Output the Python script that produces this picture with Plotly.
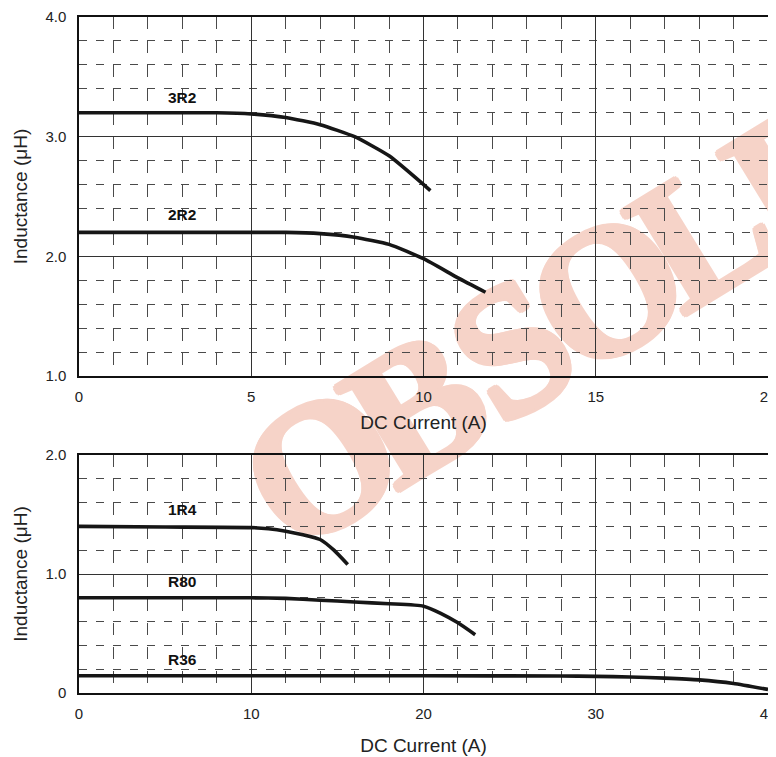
import math
import plotly.graph_objects as go

# ---------------- data ----------------
top_x_ticks = [0, 5, 10, 15, 20]
top_y_ticks = [1, 2, 3, 4]
top_y_text = ["1.0", "2.0", "3.0", "4.0"]
bot_x_ticks = [0, 10, 20, 30, 40]
bot_y_ticks = [0, 1, 2]
bot_y_text = ["0", "1.0", "2.0"]

r3r2_x = [0, 4, 5, 6, 7, 8, 9, 10.2]
r3r2_y = [3.2, 3.2, 3.19, 3.16, 3.10, 3.0, 2.84, 2.55]

r2r2_x = [0, 6, 7, 8, 9, 10, 11, 11.8]
r2r2_y = [2.2, 2.2, 2.19, 2.16, 2.10, 1.98, 1.82, 1.70]

r1r4_x = [0, 5, 10, 11, 12, 13, 14, 14.8, 15.6]
r1r4_y = [1.40, 1.395, 1.39, 1.38, 1.36, 1.33, 1.29, 1.20, 1.08]

r80_x = [0, 5, 10, 12, 14, 16, 18, 20, 21, 22, 23]
r80_y = [0.8, 0.8, 0.8, 0.795, 0.78, 0.765, 0.75, 0.73, 0.67, 0.59, 0.49]

r36_x = [0, 10, 20, 28, 30, 32, 34, 36, 38, 40]
r36_y = [0.145, 0.145, 0.145, 0.143, 0.14, 0.135, 0.125, 0.11, 0.08, 0.03]

watermark = "OBSOLETE"

# ---------------- styling ----------------
W, H = 776, 757
PAGE = 8  # default body margin of the page
ML, MR, MT, MB = 79 - PAGE, 16, 17 - PAGE, 72
LINE_COLOR = "#161616"
SANS = "Liberation Sans, Arial, sans-serif"
WM_COLOR = "#f6d3c8"

fig = go.Figure()

def add_curve(x, y, xa, ya):
    fig.add_trace(go.Scatter(x=x, y=y, xaxis=xa, yaxis=ya, mode="lines",
                             line=dict(color=LINE_COLOR, width=3.6, shape="spline", smoothing=0.5),
                             hoverinfo="skip", showlegend=False))

add_curve(r3r2_x, r3r2_y, "x", "y")
add_curve(r2r2_x, r2r2_y, "x", "y")
add_curve(r1r4_x, r1r4_y, "x2", "y2")
add_curve(r80_x, r80_y, "x2", "y2")
add_curve(r36_x, r36_y, "x2", "y2")

plot_h = H - MT - MB
plot_w = W - ML - MR
top_dom = [(693 - 376) / plot_h, 1.0]
bot_dom = [0.0, (693 - 455) / plot_h]

def xaxis(rng, ticks, minor_dtick, anchor, standoff):
    return dict(range=rng, tickvals=ticks, ticktext=[str(t) for t in ticks],
                showline=True, mirror=True, linecolor="#111", linewidth=1.5,
                showgrid=True, gridcolor="#333", gridwidth=1, zeroline=False,
                ticks="", ticklabelstandoff=6, automargin=False, ticklabeloverflow="allow",
                tickfont=dict(family=SANS, size=15, color="#222"),
                minor=dict(dtick=minor_dtick, tick0=0, showgrid=True, gridcolor="#4a4a4a",
                           gridwidth=1.1, griddash="12px,12px"),
                title=dict(text="DC Current (A)", font=dict(family=SANS, size=19, color="#222"),
                           standoff=standoff),
                anchor=anchor, fixedrange=True)

def yaxis(rng, ticks, text, dom, anchor):
    return dict(range=rng, tickvals=ticks, ticktext=text, domain=dom,
                showline=True, mirror=True, linecolor="#111", linewidth=1.5,
                showgrid=True, gridcolor="#333", gridwidth=1, zeroline=False,
                ticks="", ticklabelstandoff=8, automargin=False, ticklabeloverflow="allow",
                tickfont=dict(family=SANS, size=15, color="#222"),
                minor=dict(dtick=0.2, tick0=0, showgrid=True, gridcolor="#4a4a4a",
                           gridwidth=1.1, griddash="8px,9px"),
                title=dict(text="Inductance (μH)", font=dict(family=SANS, size=19, color="#222"),
                           standoff=13),
                anchor=anchor, fixedrange=True)

fig.update_layout(
    width=W, height=H,
    margin=dict(l=ML, r=MR, t=MT, b=MB, autoexpand=False),
    paper_bgcolor="white", plot_bgcolor="white",
    xaxis=xaxis([0, 20], top_x_ticks, 1, "y", 12),
    yaxis=yaxis([1, 4], top_y_ticks, top_y_text, top_dom, "x"),
    xaxis2=xaxis([0, 40], bot_x_ticks, 2, "y2", 18),
    yaxis2=yaxis([0, 2], bot_y_ticks, bot_y_text, bot_dom, "x2"),
)

# curve labels
labels = [("3R2", 3.0, 3.33, "x", "y"), ("2R2", 3.0, 2.35, "x", "y"),
          ("1R4", 6.0, 1.54, "x2", "y2"), ("R80", 6.0, 0.94, "x2", "y2"),
          ("R36", 6.0, 0.28, "x2", "y2")]
for t, lx, ly, xr, yr in labels:
    fig.add_annotation(text=f"<b>{t}</b>", x=lx, y=ly, xref=xr, yref=yr, showarrow=False,
                       font=dict(family=SANS, size=15.5, color="#111"))

# watermark letters (behind grid); centres given in window pixels
ang = 31.5
step = 112
cx0, cy0 = 310, 448
thick = ", ".join(f"{dx}px {dy}px 0 {WM_COLOR}" for dx, dy in
                  [(3, 0), (-3, 0), (0, 3), (0, -3), (2, 2), (-2, -2), (2, -2), (-2, 2)])
for i, ch in enumerate(watermark):
    px = cx0 + i * step * math.cos(math.radians(ang))
    py = cy0 - i * step * math.sin(math.radians(ang))
    fx = (px - 79) / plot_w
    fy = (693 - py) / plot_h
    fig.add_shape(type="rect", xref="paper", yref="paper",
                  x0=fx - 0.001, x1=fx + 0.001, y0=fy - 0.001, y1=fy + 0.001,
                  line=dict(width=0), fillcolor="rgba(0,0,0,0)", layer="below",
                  label=dict(text=f"<b>{ch}</b>", textangle=-ang, textposition="middle center",
                             font=dict(family="Liberation Serif, serif", shadow=thick,
                                       size=185, color=WM_COLOR)))

fig.write_html("out.html",
               post_script="document.documentElement.style.overflow='hidden';"
                           "document.body.style.overflow='hidden';")
